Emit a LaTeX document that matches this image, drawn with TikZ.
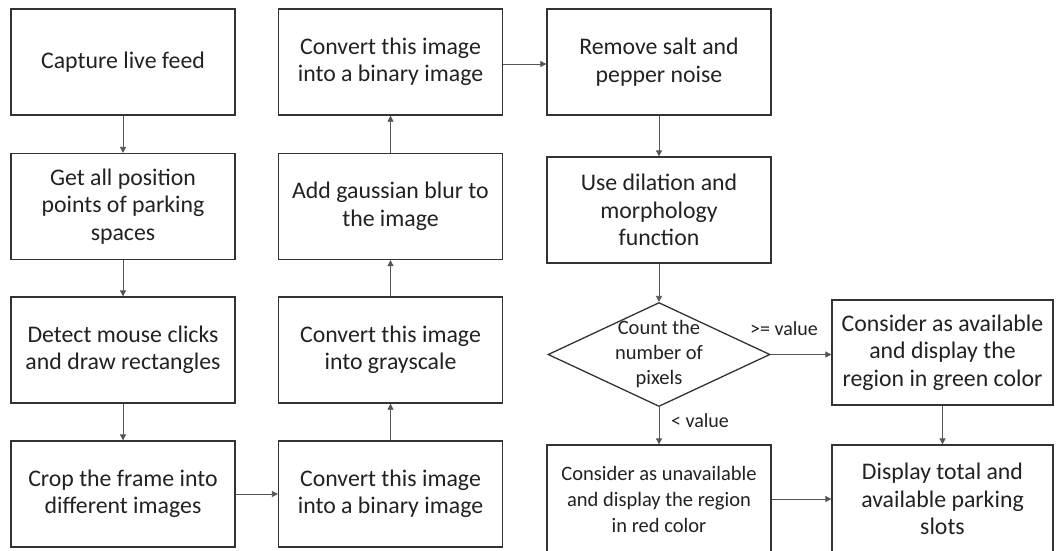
\documentclass[tikz,border=0pt]{standalone}
\usepackage{fontspec}
\setmainfont{Carlito}
\usetikzlibrary{arrows.meta,shapes.geometric}
\definecolor{boxline}{HTML}{333333}
\definecolor{arrline}{HTML}{555555}
\definecolor{txt}{HTML}{222222}
\tikzset{
  stepbox/.style={draw=boxline, line width=1.3pt, minimum width=224pt, minimum height=106pt,
    inner sep=0pt, align=center, text=txt, font=\fontsize{23.8}{27.5}\selectfont},
  smallbox/.style={stepbox, font=\fontsize{20.5}{26}\selectfont},
  conn/.style={draw=arrline, line width=0.8pt, -{Triangle[length=6pt,width=6pt]}},
  lbl/.style={text=txt, font=\fontsize{20}{24}\selectfont, inner sep=0pt}
}
\begin{document}
\begin{tikzpicture}[x=1pt,y=-1pt]
\clip (0,0) rectangle (1057,550);
\fill[white] (0,0) rectangle (1057,550);
% column 1
\node[stepbox] (a1) at (123,62) {Capture live feed};
\node[stepbox] (a2) at (123,206.5) {Get all position\\points of parking\\spaces};
\node[stepbox] (a3) at (123,350) {Detect mouse clicks\\and draw rectangles};
\node[stepbox] (a4) at (123,494) {Crop the frame into\\different images};
% column 2
\node[stepbox] (b4) at (390.5,494) {Convert this image\\into a binary image};
\node[stepbox] (b3) at (390.5,350) {Convert this image\\into grayscale};
\node[stepbox] (b2) at (390.5,206.5) {Add gaussian blur to\\the image};
\node[stepbox] (b1) at (390.5,62) {Convert this image\\into a binary image};
% column 3
\node[stepbox] (c1) at (659,62) {Remove salt and\\pepper noise};
\node[stepbox] (c2) at (659,210) {Use dilation and\\morphology\\function};
\node[draw=boxline, line width=1.3pt, shape=diamond, minimum width=222pt, minimum height=104pt, inner sep=0pt,
  label={[align=center, text=txt, font=\fontsize{20.5}{25}\selectfont]center:Count the\\number of\\pixels}] (d) at (659,354.5) {};
\node[smallbox, minimum height=108pt] (c4) at (659,499) {Consider as unavailable\\and display the region\\in red color};
% column 4
\node[stepbox, minimum width=221pt, minimum height=105pt] (e1) at (942.5,352.5) {Consider as available\\and display the\\region in green color};
\node[stepbox, minimum width=221pt, minimum height=108pt] (e2) at (942.5,499) {Display total and\\available parking\\slots};
% connectors
\draw[conn] (a1) -- (a2);
\draw[conn] (a2) -- (a3);
\draw[conn] (a3) -- (a4);
\draw[conn] (a4) -- (b4);
\draw[conn] (b4) -- (b3);
\draw[conn] (b3) -- (b2);
\draw[conn] (b2) -- (b1);
\draw[conn] ([yshift=-2pt]b1.east) -- ([yshift=-2pt]c1.west);
\draw[conn] (c1) -- (c2);
\draw[conn] (c2) -- (d);
\draw[conn] (d.east) -- (d.east -| e1.west);
\draw[conn] (d) -- (c4);
\draw[conn] (e1) -- (e2);
\draw[conn] (c4) -- (e2);
% labels
\node[lbl] (l1) at (784,329) {>= value};
\node[lbl] (l2) at (700,421) {< value};
\end{tikzpicture}
\end{document}
